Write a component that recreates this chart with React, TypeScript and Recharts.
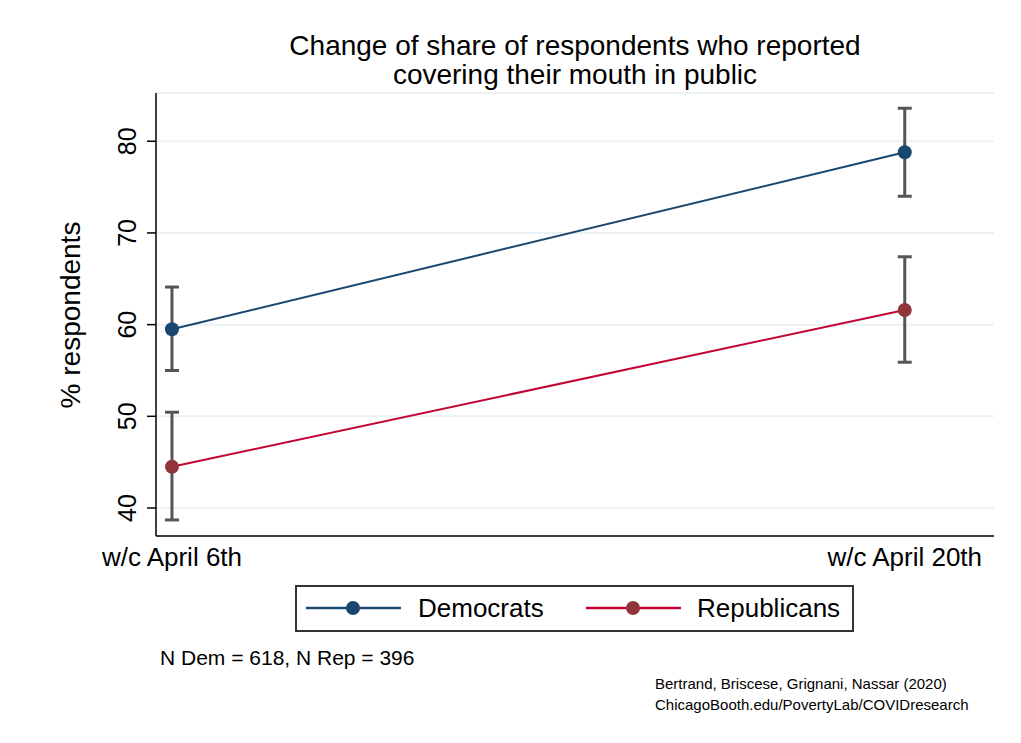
import { LineChart, Line, XAxis, YAxis, CartesianGrid, ErrorBar } from "recharts";

const weeks = ["w/c April 6th", "w/c April 20th"];
const demShare = [59.5, 78.8];
const demLow = [55.0, 74.0];
const demHigh = [64.1, 83.6];
const repShare = [44.5, 61.6];
const repLow = [38.7, 55.9];
const repHigh = [50.45, 67.4];
const yTicks = [40, 50, 60, 70, 80];

const DEM = "#1a476f";
const REP_LINE = "#c10534";
const REP_DOT = "#90353b";
const FONT = "'Liberation Sans', Arial, sans-serif";

const data = weeks.map((week, i) => ({
  x: i,
  week,
  dem: demShare[i],
  demErr: [demShare[i] - demLow[i], demHigh[i] - demShare[i]],
  rep: repShare[i],
  repErr: [repShare[i] - repLow[i], repHigh[i] - repShare[i]],
}));

const YTick = ({ y, payload }: any) => {
  const tx = 136;
  return (
    <text x={tx} y={y} transform={`rotate(-90 ${tx} ${y})`} textAnchor="middle" fontSize={25} fontFamily={FONT} fill="#000">
      {payload.value}
    </text>
  );
};

const XTick = ({ x, y, payload }: any) => (
  <text x={x} y={y + 22} textAnchor="middle" fontSize={26} fontFamily={FONT} fill="#000">
    {weeks[payload.value]}
  </text>
);

export default function App() {
  return (
    <div style={{ position: "absolute", left: 0, top: 0, width: 1021, height: 743, background: "#fff" }}>
      <LineChart width={1021} height={743} data={data} margin={{ top: 93, right: 27, bottom: 167, left: 56 }}>
        <CartesianGrid vertical={false} stroke="#eaf2f3" strokeWidth={2} />
        <XAxis
          type="number"
          dataKey="x"
          domain={[-0.0218, 1.1218]}
          ticks={[0, 1]}
          allowDataOverflow
          tickLine={false}
          tick={<XTick />}
          height={40}
          axisLine={{ stroke: "#000", strokeWidth: 1.5 }}
        />
        <YAxis
          domain={[36.95, 85.26]}
          ticks={yTicks}
          allowDataOverflow
          width={100}
          tickSize={9}
          tickLine={{ stroke: "#000", strokeWidth: 1.5 }}
          tick={<YTick />}
          axisLine={{ stroke: "#000", strokeWidth: 1.5 }}
        />
        <Line
          dataKey="dem"
          stroke={DEM}
          strokeWidth={2}
          dot={{ r: 7, fill: DEM, stroke: DEM, strokeWidth: 0 }}
          isAnimationActive={false}
        >
          <ErrorBar dataKey="demErr" direction="y" width={7} stroke="#555" strokeWidth={3} />
        </Line>
        <Line
          dataKey="rep"
          stroke={REP_LINE}
          strokeWidth={2}
          dot={{ r: 7, fill: REP_DOT, stroke: REP_DOT, strokeWidth: 0 }}
          isAnimationActive={false}
        >
          <ErrorBar dataKey="repErr" direction="y" width={7} stroke="#555" strokeWidth={3} />
        </Line>
      </LineChart>
      <svg width={1021} height={743} style={{ position: "absolute", left: 0, top: 0, pointerEvents: "none" }} fontFamily={FONT}>
        <text x={575} y={55} textAnchor="middle" fontSize={28}>Change of share of respondents who reported</text>
        <text x={575} y={84} textAnchor="middle" fontSize={28}>covering their mouth in public</text>
        <text x={80} y={315} transform="rotate(-90 80 315)" textAnchor="middle" fontSize={28}>% respondents</text>
        <g transform="translate(295 585)">
          <rect x={1} y={1} width={557} height={45} fill="#fff" stroke="#333" strokeWidth={2} />
          <line x1={11} x2={106} y1={23} y2={23} stroke={DEM} strokeWidth={2.5} />
          <circle cx={58} cy={23} r={7} fill={DEM} />
          <text x={123} y={32} fontSize={26}>Democrats</text>
          <line x1={291} x2={386} y1={23} y2={23} stroke={REP_LINE} strokeWidth={2.5} />
          <circle cx={338} cy={23} r={7} fill={REP_DOT} />
          <text x={402} y={32} fontSize={26}>Republicans</text>
        </g>
        <text x={160} y={665} fontSize={21}>N Dem = 618, N Rep = 396</text>
        <text x={655} y={689} fontSize={15}>Bertrand, Briscese, Grignani, Nassar (2020)</text>
        <text x={655} y={710} fontSize={15}>ChicagoBooth.edu/PovertyLab/COVIDresearch</text>
      </svg>
    </div>
  );
}
